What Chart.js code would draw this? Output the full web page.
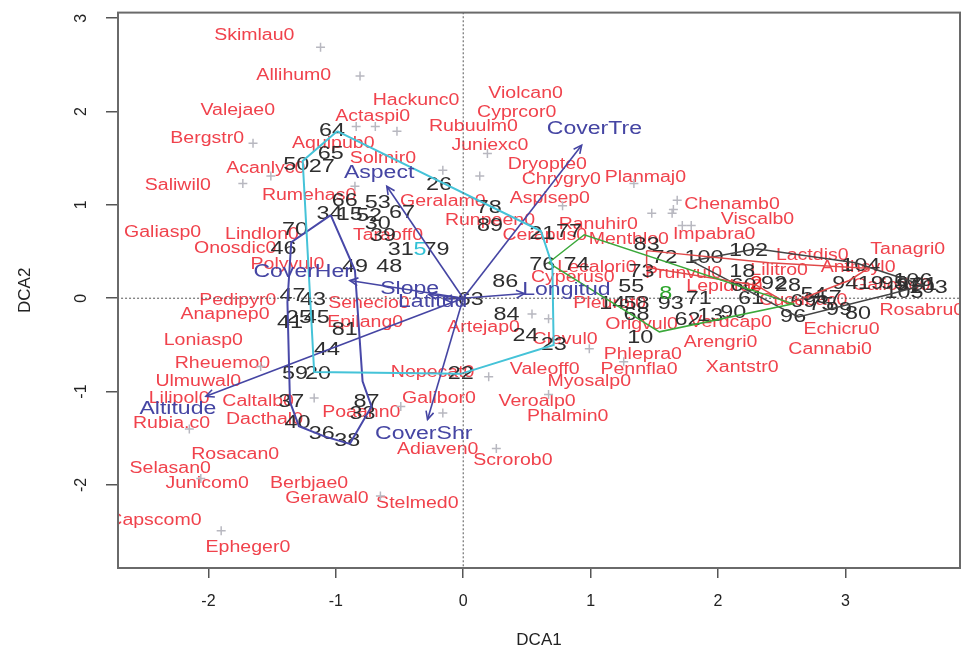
<!DOCTYPE html>
<html>
<head>
<meta charset="utf-8">
<script src="https://cdn.jsdelivr.net/npm/chart.js@4.4.1/dist/chart.umd.min.js"></script>
<style>
  html, body { margin: 0; padding: 0; background: #fff; }
</style>
</head>
<body>
<canvas id="dca" width="966" height="657"></canvas>
<script>
// tick values
const xTicks = [-2, -1, 0, 1, 2, 3];
const yTicks = [-2, -1, 0, 1, 2, 3];

// species scores (label positions)
const speciesNames = [
  'Skimlau0', 'Allihum0', 'Hackunc0', 'Violcan0', 'Valejae0', 'Actaspi0', 'Cyprcor0', 'Rubuulm0',
  'Bergstr0', 'Aquipub0', 'Juniexc0', 'Solmir0', 'Acanlyc0', 'Dryopte0', 'Chrygry0', 'Planmaj0',
  'Saliwil0', 'Rumehas0', 'Aspisep0', 'Geralam0', 'Chenamb0', 'Viscalb0', 'Impabra0', 'Galiasp0',
  'Lindlon0', 'Runpeen0', 'Ranuhir0', 'Cerapus0', 'Menthlo0', 'Onosdic0', 'Polyvul0', 'Taraoff0',
  'Lecalori0', 'Cyperus0', 'Prunvul0', 'Lepidra0', 'Pleurot0', 'Origvul0', 'Cucubac0', 'Lactdis0',
  'Tanagri0', 'Anthsyl0', 'Lilitro0', 'Galiodo0', 'Rosabru0', 'Echicru0', 'Cannabi0', 'Xantstr0',
  'Arengri0', 'Phlepra0', 'Pennfla0', 'Verdcap0', 'Valeoff0', 'Myosalp0', 'Veroalp0', 'Phalmin0',
  'Nepecat0', 'Galibor0', 'Adiaven0', 'Scrorob0', 'Artejap0', 'Clevul0', 'Senecio0', 'Epilang0',
  'Pedipyr0', 'Anapnep0', 'Loniasp0', 'Rheuemo0', 'Ulmuwal0', 'Lilipol0', 'Caltalb0', 'Rubia.c0',
  'Dacthal0', 'Poaann0', 'Rosacan0', 'Selasan0', 'Junicom0', 'Berbjae0', 'Gerawal0', 'Stelmed0',
  'Capscom0', 'Epheger0',
];
const speciesX = [
  -1.64, -1.33, -0.37, 0.49, -1.77, -0.71, 0.42, 0.08,
  -2.01, -1.02, 0.21, -0.63, -1.55, 0.66, 0.77, 1.43,
  -2.24, -1.21, 0.68, -0.16, 2.11, 2.31, 1.97, -2.36,
  -1.58, 0.21, 1.06, 0.64, 1.30, -1.79, -1.38, -0.59,
  1.05, 0.86, 1.73, 2.05, 1.15, 1.40, 2.67, 2.74,
  3.49, 3.10, 2.48, 3.36, 3.60, 2.97, 2.88, 2.19,
  2.02, 1.41, 1.38, 2.10, 0.64, 0.99, 0.58, 0.82,
  -0.24, -0.19, -0.20, 0.39, 0.16, 0.80, -0.74, -0.77,
  -1.77, -1.87, -2.04, -1.89, -2.08, -2.23, -1.61, -2.29,
  -1.56, -0.80, -1.79, -2.30, -2.01, -1.21, -1.07, -0.36,
  -2.42, -1.69,
];
const speciesY = [
  2.81, 2.38, 2.12, 2.19, 2.01, 1.95, 1.99, 1.84,
  1.71, 1.66, 1.64, 1.50, 1.39, 1.43, 1.27, 1.29,
  1.21, 1.10, 1.07, 1.04, 1.00, 0.84, 0.68, 0.70,
  0.68, 0.83, 0.79, 0.67, 0.63, 0.53, 0.36, 0.67,
  0.33, 0.22, 0.26, 0.12, -0.06, -0.28, -0.02, 0.46,
  0.52, 0.33, 0.30, 0.14, -0.13, -0.34, -0.55, -0.74,
  -0.47, -0.60, -0.76, -0.26, -0.76, -0.89, -1.11, -1.27,
  -0.80, -1.07, -1.62, -1.74, -0.31, -0.44, -0.06, -0.26,
  -0.02, -0.18, -0.45, -0.70, -0.89, -1.07, -1.11, -1.34,
  -1.30, -1.23, -1.67, -1.82, -1.99, -1.99, -2.15, -2.20,
  -2.38, -2.67,
];

// species points (grey crosses)
const crossX = [
  -1.12, -0.81, -1.65, -1.73, -1.51, -0.84, -0.69, -0.52, 0.19, 0.13, -0.16, 0.78,
  1.34, 1.68, 1.65, 1.79, 1.48, 1.64, 1.72, 0.54, 0.67, 0.99, 0.20, -1.59,
  -1.17, -2.15, -2.06, -1.90, -0.65, -0.16, 0.26, 0.67, -0.49, -0.85, 1.26,
];
const crossY = [
  2.69, 2.38, 1.66, 1.23, 1.31, 1.84, 1.84, 1.79, 1.55, 1.31, 1.37, 0.99,
  1.23, 1.05, 0.95, 0.78, 0.91, 0.91, 0.78, -0.17, -0.22, -0.54, -0.84, -0.73,
  -1.07, -1.40, -1.93, -2.49, -2.12, -1.23, -1.61, -1.03, -1.16, 1.20, -0.68,
];

// site scores
const siteNames = [
  '64', '65', '50', '27', '26', '78', '89', '21', '77', '66', '53', '34', '15', '52', '67', '30',
  '39', '31', '5', '79', '49', '48', '70', '46', '47', '43', '25', '45', '41', '81', '44', '59',
  '20', '37', '40', '36', '38', '87', '33', '22', '23', '24', '84', '86', '63', '76', '74', '55',
  '14', '58', '68', '83', '72', '73', '100', '102', '18', '60', '92', '28', '61', '96', '99', '62',
  '13', '90', '10', '93', '71', '104', '94', '19', '80', '95', '97', '101', '103', '105', '106', '54',
  '57', '69', '75', '8', '2',
];
const siteX = [
  -1.03, -1.04, -1.31, -1.11, -0.19, 0.20, 0.21, 0.62, 0.83, -0.93, -0.67, -1.05, -0.89, -0.74, -0.48, -0.67,
  -0.63, -0.49, -0.34, -0.21, -0.85, -0.58, -1.32, -1.41, -1.34, -1.18, -1.29, -1.15, -1.36, -0.93, -1.07, -1.32,
  -1.14, -1.35, -1.30, -1.11, -0.91, -0.76, -0.79, -0.02, 0.71, 0.49, 0.34, 0.33, 0.06, 0.62, 0.89, 1.32,
  1.17, 1.36, 1.36, 1.44, 1.58, 1.40, 1.89, 2.24, 2.19, 2.20, 2.44, 2.55, 2.26, 2.59, 2.95, 1.76,
  1.94, 2.12, 1.39, 1.63, 1.85, 3.12, 3.00, 3.20, 3.10, 3.38, 3.50, 3.57, 3.65, 3.46, 3.53, 2.75,
  2.87, 2.67, 2.81, 1.59, 2.30,
];
const siteY = [
  1.79, 1.55, 1.43, 1.41, 1.21, 0.97, 0.77, 0.69, 0.71, 1.04, 1.02, 0.90, 0.89, 0.88, 0.91, 0.79,
  0.67, 0.52, 0.52, 0.52, 0.33, 0.33, 0.73, 0.53, 0.02, -0.02, -0.21, -0.21, -0.27, -0.34, -0.56, -0.81,
  -0.81, -1.11, -1.34, -1.45, -1.53, -1.11, -1.24, -0.81, -0.50, -0.40, -0.18, 0.17, -0.02, 0.36, 0.36, 0.12,
  -0.06, -0.06, -0.18, 0.57, 0.43, 0.28, 0.43, 0.51, 0.28, 0.13, 0.15, 0.13, -0.01, -0.20, -0.13, -0.23,
  -0.19, -0.16, -0.43, -0.06, -0.01, 0.34, 0.15, 0.15, -0.17, 0.15, 0.13, 0.14, 0.11, 0.06, 0.18, 0.03,
  0.00, -0.04, -0.07, 0.04, 0.15,
];

// group hulls (x, y pairs)
const cyanHull = [[-0.99, 1.79], [0.61, 0.72], [0.70, 0.35], [0.71, -0.50], [-0.02, -0.81], [-1.17, -0.79], [-1.26, 1.47], [-0.99, 1.79]];
const blueHull = [[-1.04, 0.89], [-1.35, 0.60], [-1.38, -0.04], [-1.36, -1.11], [-1.29, -1.37], [-1.09, -1.48], [-0.89, -1.56], [-0.72, -1.16], [-0.79, -0.89], [-0.85, 0.30], [-1.04, 0.89]];
const greenHull = [[0.67, 0.38], [0.95, 0.68], [2.59, -0.06], [1.54, -0.36], [0.67, 0.38]];
const redHull = [[1.44, 0.51], [2.40, 0.38], [3.18, 0.32], [3.03, 0.19], [2.55, -0.06], [2.30, 0.14], [1.44, 0.33], [1.44, 0.51]];
const greyHull = [[1.79, 0.40], [2.30, 0.53], [3.08, 0.38], [3.61, 0.14], [3.34, 0.04], [2.63, -0.20], [1.79, 0.40]];

// environmental vectors
const envNames = ['Altitude', 'CoverTre', 'CoverShr', 'Aspect', 'CoverHer', 'Slope', 'Latitud', 'Longitud'];
const envX = [-2.02, 0.93, -0.28, -0.60, -0.89, -0.27, -0.15, 0.48];
const envY = [-1.05, 1.64, -1.30, 1.20, 0.19, 0.04, -0.01, 0.05];
const envLabelX = [-2.24, 1.03, -0.31, -0.66, -1.26, -0.42, -0.24, 0.81];
const envLabelY = [-1.19, 1.81, -1.46, 1.34, 0.28, 0.10, -0.04, 0.09];

const FONT = '"Liberation Sans", Arial, sans-serif';
const speciesColor = '#f0424c';
const siteColor = '#2e2e2e';
const envColor = '#4545a3';
const siteHighlight = { 5: '#33c2d6', 8: '#2aa52a', 2: '#e02020' };

const toPoints = (pairs) => pairs.map(([x, y]) => ({ x, y }));

function drawStretched(ctx, text, px, py, font, color, sx) {
  ctx.save();
  ctx.translate(px, py);
  ctx.scale(sx, 1);
  ctx.font = font;
  ctx.fillStyle = color;
  ctx.textAlign = 'center';
  ctx.textBaseline = 'middle';
  ctx.fillText(text, 0, 0);
  ctx.restore();
}

function clipToArea(ctx, area) {
  ctx.beginPath();
  ctx.rect(area.left, area.top, area.right - area.left, area.bottom - area.top);
  ctx.clip();
}

const biplotText = {
  id: 'biplotText',
  beforeDatasetsDraw(chart) {
    const { ctx, chartArea, scales: { x, y } } = chart;
    ctx.save();
    clipToArea(ctx, chartArea);
    speciesNames.forEach((name, i) => {
      drawStretched(ctx, name, x.getPixelForValue(speciesX[i]), y.getPixelForValue(speciesY[i]),
        `16px ${FONT}`, speciesColor, 1.22);
    });
    siteNames.forEach((name, i) => {
      drawStretched(ctx, name, x.getPixelForValue(siteX[i]), y.getPixelForValue(siteY[i]),
        `18px ${FONT}`, siteHighlight[name] || siteColor, 1.3);
    });
    ctx.restore();
  },
  afterDatasetsDraw(chart) {
    const { ctx, chartArea, scales: { x, y } } = chart;
    const x0 = x.getPixelForValue(0);
    const y0 = y.getPixelForValue(0);
    ctx.save();
    clipToArea(ctx, chartArea);
    ctx.strokeStyle = envColor;
    ctx.lineWidth = 1.6;
    envNames.forEach((name, i) => {
      const px = x.getPixelForValue(envX[i]);
      const py = y.getPixelForValue(envY[i]);
      const ang = Math.atan2(py - y0, px - x0);
      ctx.beginPath();
      ctx.moveTo(px - 9 * Math.cos(ang - 0.45), py - 9 * Math.sin(ang - 0.45));
      ctx.lineTo(px, py);
      ctx.lineTo(px - 9 * Math.cos(ang + 0.45), py - 9 * Math.sin(ang + 0.45));
      ctx.stroke();
    });
    envNames.forEach((name, i) => {
      drawStretched(ctx, name, x.getPixelForValue(envLabelX[i]), y.getPixelForValue(envLabelY[i]),
        `18px ${FONT}`, envColor, 1.28);
    });
    ctx.restore();
  },
  afterDraw(chart) {
    const { ctx, chartArea, scales: { y } } = chart;
    ctx.save();
    ctx.strokeStyle = '#6a6a6a';
    ctx.lineWidth = 2;
    ctx.strokeRect(chartArea.left, chartArea.top, chartArea.right - chartArea.left, chartArea.bottom - chartArea.top);
    yTicks.forEach((v) => {
      ctx.save();
      ctx.translate(82, y.getPixelForValue(v));
      ctx.rotate(-Math.PI / 2);
      ctx.font = `16px ${FONT}`;
      ctx.fillStyle = '#222';
      ctx.textAlign = 'center';
      ctx.textBaseline = 'middle';
      ctx.fillText(String(v), 0, 0);
      ctx.restore();
    });
    ctx.restore();
  },
};

function lineSet(points, color, width, dash) {
  return {
    type: 'scatter',
    data: points,
    showLine: true,
    borderColor: color,
    borderWidth: width,
    borderDash: dash || [],
    pointRadius: 0,
    fill: false,
  };
}

const datasets = [
  lineSet([{ x: 0, y: -3 }, { x: 0, y: 3.2 }], '#555', 1, [2, 2]),
  lineSet([{ x: -3, y: 0 }, { x: 4, y: 0 }], '#555', 1, [2, 2]),
  {
    type: 'scatter',
    data: crossX.map((v, i) => ({ x: v, y: crossY[i] })),
    pointStyle: 'cross',
    pointRadius: 4.5,
    borderColor: '#b8b8c0',
    borderWidth: 1.5,
  },
  lineSet(toPoints(cyanHull), '#45c3d8', 2),
  lineSet(toPoints(blueHull), '#4848a8', 2),
  lineSet(toPoints(greenHull), '#3aa83a', 1.5),
  lineSet(toPoints(redHull), '#e04848', 1.5),
  lineSet(toPoints(greyHull), '#444', 1.5),
];
envNames.forEach((name, i) => {
  datasets.push(lineSet([{ x: 0, y: 0 }, { x: envX[i], y: envY[i] }], envColor, 1.6));
});

new Chart(document.getElementById('dca'), {
  type: 'scatter',
  data: { datasets },
  plugins: [biplotText],
  options: {
    responsive: false,
    animation: false,
    devicePixelRatio: 1,
    layout: { padding: { top: 8, right: 4, left: 0, bottom: 0 } },
    plugins: { legend: { display: false }, tooltip: { enabled: false } },
    scales: {
      x: {
        type: 'linear',
        min: -2.71,
        max: 3.9,
        afterBuildTicks: (s) => { s.ticks = xTicks.map((v) => ({ value: v })); },
        afterFit: (s) => { s.height = 89; },
        border: { display: false },
        grid: { drawOnChartArea: false, drawTicks: true, tickLength: 10, color: '#555', lineWidth: 1.5 },
        ticks: { color: '#222', font: { family: FONT, size: 16 }, padding: 14, maxRotation: 0 },
        title: { display: true, text: 'DCA1', color: '#222', font: { family: FONT, size: 17 }, padding: { bottom: 6 } },
      },
      y: {
        type: 'linear',
        min: -2.89,
        max: 3.06,
        afterBuildTicks: (s) => { s.ticks = yTicks.map((v) => ({ value: v })); },
        afterFit: (s) => { s.width = 118; },
        border: { display: false },
        grid: { drawOnChartArea: false, drawTicks: true, tickLength: 12, color: '#555', lineWidth: 1.5 },
        ticks: { color: 'rgba(0,0,0,0)', font: { family: FONT, size: 16 } },
        title: { display: true, text: 'DCA2', color: '#222', font: { family: FONT, size: 17 }, padding: { top: 15 } },
      },
    },
  },
});
</script>
</body>
</html>
